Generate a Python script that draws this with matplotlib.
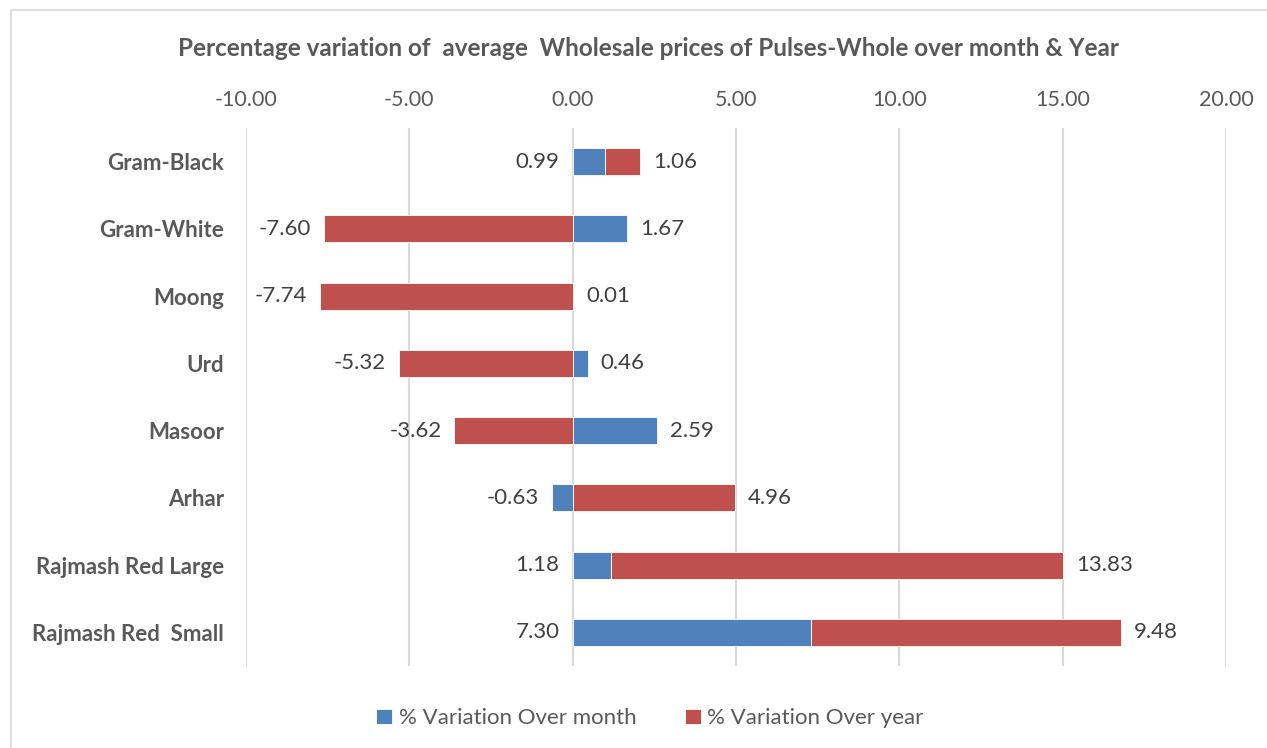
import matplotlib.pyplot as plt
import numpy as np
from matplotlib.patches import Rectangle

# data
pulses = ["Gram-Black", "Gram-White", "Moong", "Urd", "Masoor", "Arhar",
          "Rajmash Red Large", "Rajmash Red  Small"]
month_var = [0.99, 1.67, 0.01, 0.46, 2.59, -0.63, 1.18, 7.30]
year_var = [1.06, -7.60, -7.74, -5.32, -3.62, 4.96, 13.83, 9.48]

blue = '#4f81bd'
red = '#c0504d'
grey = '#595959'
dark = '#404040'
plt.rcParams['font.family'] = ['Lato', 'DejaVu Sans']

fig = plt.figure(figsize=(12.67, 7.48), dpi=100)
ax = fig.add_axes([0.1942, 0.1096, 0.7734, 0.7193])

y = np.arange(len(pulses))
month = np.array(month_var)
year = np.array(year_var)
# excel-style stacking: same sign stacks, opposite sign starts at zero
year_left = np.where(np.sign(month) == np.sign(year), month, 0)

ax.barh(y, month, height=0.4, color=blue, edgecolor='white', linewidth=0.6,
        label='% Variation Over month', zorder=3)
ax.barh(y, year, left=year_left, height=0.4, color=red, edgecolor='white',
        linewidth=0.6, label='% Variation Over year', zorder=3)

ax.set_xlim(-10, 20)
ax.set_ylim(len(pulses) - 0.5, -0.5)
ax.set_xticks(np.arange(-10, 21, 5))
ax.set_xticklabels([f'{v:.2f}' for v in np.arange(-10, 21, 5)])
ax.xaxis.tick_top()
ax.tick_params(axis='x', length=0, pad=13, labelsize=15.5, labelcolor=grey)
ax.set_yticks(y)
ax.set_yticklabels(pulses, fontweight='bold', fontsize=16, color=grey)
ax.tick_params(axis='y', length=0, pad=16)
ax.grid(axis='x', color='#d9d9d9', linewidth=1.5, zorder=0)
for s in ax.spines.values():
    s.set_visible(False)

off = 0.4
fs = 16
for i in range(len(pulses)):
    m, yr = month[i], year[i]
    # month labels
    if m > 0 and yr > 0:
        ax.text(-off, i, f'{m:.2f}', ha='right', va='center', fontsize=fs, color=dark)
    elif m >= 0:
        ax.text(m + off, i, f'{m:.2f}', ha='left', va='center', fontsize=fs, color=dark)
    else:
        ax.text(m - off, i, f'{m:.2f}', ha='right', va='center', fontsize=fs, color=dark)
    # year labels at bar end
    end = year_left[i] + yr
    if yr >= 0:
        ax.text(end + off, i, f'{yr:.2f}', ha='left', va='center', fontsize=fs, color=dark)
    else:
        ax.text(end - off, i, f'{yr:.2f}', ha='right', va='center', fontsize=fs, color=dark)

fig.text(0.512, 0.935, 'Percentage variation of  average  Wholesale prices of Pulses-Whole over month & Year',
         ha='center', va='center', fontsize=17.5, fontweight='bold', color=grey)

fig.legend(loc='center', bbox_to_anchor=(0.513, 0.04), ncol=2, frameon=False,
           fontsize=16, labelcolor=grey, handlelength=0.7, handleheight=0.7,
           handletextpad=0.3, columnspacing=2.2)

fig.patches.append(Rectangle((11 / 1267, -0.05), 1.2, 1.05 - 10 / 748, transform=fig.transFigure,
                             fill=False, edgecolor='#d9d9d9', linewidth=1.2))

fig.savefig('out.png', dpi=100)
